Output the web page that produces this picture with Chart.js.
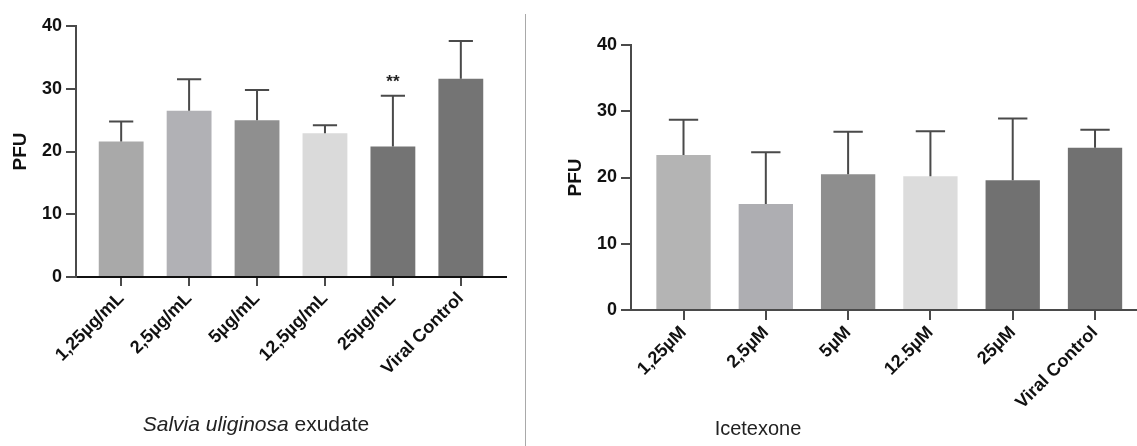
<!DOCTYPE html>
<html>
<head>
<meta charset="utf-8">
<script src="https://cdn.jsdelivr.net/npm/chart.js@4.4.1/dist/chart.umd.min.js"></script>
<style>
  body { margin: 0; background: #fff; width: 1137px; height: 446px; position: relative; overflow: hidden;
         font-family: 'Liberation Sans', Arial, sans-serif; }
  #exudateChart { position: absolute; left: 0; top: 0; }
  #icetexoneChart { position: absolute; left: 530px; top: 0; }
  .divider { position: absolute; left: 525px; top: 14px; width: 1px; height: 432px; background: #a9a9a9; }
  .caption { position: absolute; font-size: 21px; color: #222; white-space: nowrap; transform: translate(-50%, -50%); }
</style>
</head>
<body>
<canvas id="exudateChart" width="525" height="446"></canvas>
<div class="divider"></div>
<canvas id="icetexoneChart" width="607" height="446"></canvas>
<div class="caption" style="left:256px; top:424px;"><i>Salvia uliginosa</i> exudate</div>
<div class="caption" style="left:758px; top:428px; font-size:20px;">Icetexone</div>
<script>
// Salvia uliginosa exudate
const exudateLabels = ['1,25µg/mL', '2,5µg/mL', '5µg/mL', '12,5µg/mL', '25µg/mL', 'Viral Control'];
const exudateMeans = [21.6, 26.5, 25.0, 22.9, 20.8, 31.6];
const exudateSD = [3.2, 5.0, 4.8, 1.3, 8.1, 6.0];
const exudateStars = ['', '', '', '', '**', ''];
const exudateColors = ['#a9a9a9', '#b1b1b5', '#8f8f8f', '#dadada', '#747474', '#747474'];

// Icetexone
const icetexoneLabels = ['1,25µM', '2,5µM', '5µM', '12.5µM', '25µM', 'Viral Control'];
const icetexoneMeans = [23.4, 16.0, 20.5, 20.2, 19.6, 24.5];
const icetexoneSD = [5.3, 7.8, 6.4, 6.8, 9.3, 2.7];
const icetexoneStars = ['', '', '', '', '', ''];
const icetexoneColors = ['#b4b4b4', '#aeaeb2', '#8e8e8e', '#dcdcdc', '#717171', '#717171'];

const yMax = 40;
const yStep = 10;

Chart.defaults.font.family = "'Liberation Sans', Arial, sans-serif";
Chart.defaults.color = '#111';

// error bars (upper only) and significance marks
const errorBars = {
    id: 'errorBars',
    afterDatasetsDraw(chart) {
        const ctx = chart.ctx;
        const ds = chart.data.datasets[0];
        const meta = chart.getDatasetMeta(0);
        const yScale = chart.scales.y;
        ctx.save();
        ctx.strokeStyle = '#4a4a4a';
        ctx.lineWidth = 2;
        meta.data.forEach((bar, i) => {
            const top = yScale.getPixelForValue(ds.data[i].y + ds.sd[i]);
            const half = bar.width * 0.27;
            ctx.beginPath();
            ctx.moveTo(bar.x, bar.y);
            ctx.lineTo(bar.x, top);
            ctx.moveTo(bar.x - half, top);
            ctx.lineTo(bar.x + half, top);
            ctx.stroke();
            if (ds.stars[i]) {
                ctx.fillStyle = '#222';
                ctx.font = "bold 17px 'Liberation Sans', Arial, sans-serif";
                ctx.textAlign = 'center';
                ctx.textBaseline = 'middle';
                ctx.fillText(ds.stars[i], bar.x, top - 13);
            }
        });
        ctx.restore();
    }
};

function makeChart(id, labels, means, sd, stars, colors, g) {
    return new Chart(document.getElementById(id), {
        type: 'bar',
        data: {
            datasets: [{
                data: means.map((v, i) => ({ x: i, y: v })),
                sd: sd,
                stars: stars,
                backgroundColor: colors,
                borderWidth: 0,
                barPercentage: 0.66,
                categoryPercentage: 1
            }]
        },
        options: {
            responsive: false,
            animation: false,
            devicePixelRatio: 1,
            layout: { padding: { top: g.top, right: g.right, bottom: 0, left: 0 } },
            plugins: { legend: { display: false }, tooltip: { enabled: false } },
            scales: {
                x: {
                    type: 'linear',
                    min: g.xMin,
                    max: g.xMax,
                    offset: false,
                    afterFit: (s) => { s.height = g.xHeight; },
                    grid: { offset: false, drawOnChartArea: false, tickLength: g.tickLen, color: '#4a4a4a', lineWidth: 2 },
                    border: { color: g.dashed ? '#111' : '#4a4a4a', width: 2, dash: g.dashed ? [2, 2] : [] },
                    ticks: {
                        stepSize: 1,
                        includeBounds: false,
                        autoSkip: false,
                        maxRotation: 45,
                        minRotation: 45,
                        padding: 2,
                        color: '#111',
                        font: { size: 18, weight: 'bold' },
                        callback: (v) => labels[v] ?? ''
                    }
                },
                y: {
                    min: 0,
                    max: yMax,
                    afterFit: (s) => { s.width = g.yWidth; },
                    grid: { drawOnChartArea: false, tickLength: 10, color: '#4a4a4a', lineWidth: 2 },
                    border: { color: '#4a4a4a', width: 2 },
                    ticks: { stepSize: yStep, padding: 4, color: '#111', font: { size: 18, weight: 'bold' } },
                    title: {
                        display: true,
                        text: 'PFU',
                        color: '#111',
                        font: { size: 19, weight: 'bold' },
                        padding: { top: g.titlePad, bottom: 0 }
                    }
                }
            }
        },
        plugins: [errorBars]
    });
}

makeChart('exudateChart', exudateLabels, exudateMeans, exudateSD, exudateStars, exudateColors,
    { top: 26, right: 19, xMin: -0.665, xMax: 5.665, xHeight: 169, yWidth: 76, titlePad: 9, tickLen: 9, dashed: true });

makeChart('icetexoneChart', icetexoneLabels, icetexoneMeans, icetexoneSD, icetexoneStars, icetexoneColors,
    { top: 45, right: 0, xMin: -0.638, xMax: 5.51, xHeight: 136, yWidth: 101, titlePad: 34, tickLen: 10, dashed: false });
</script>
</body>
</html>
